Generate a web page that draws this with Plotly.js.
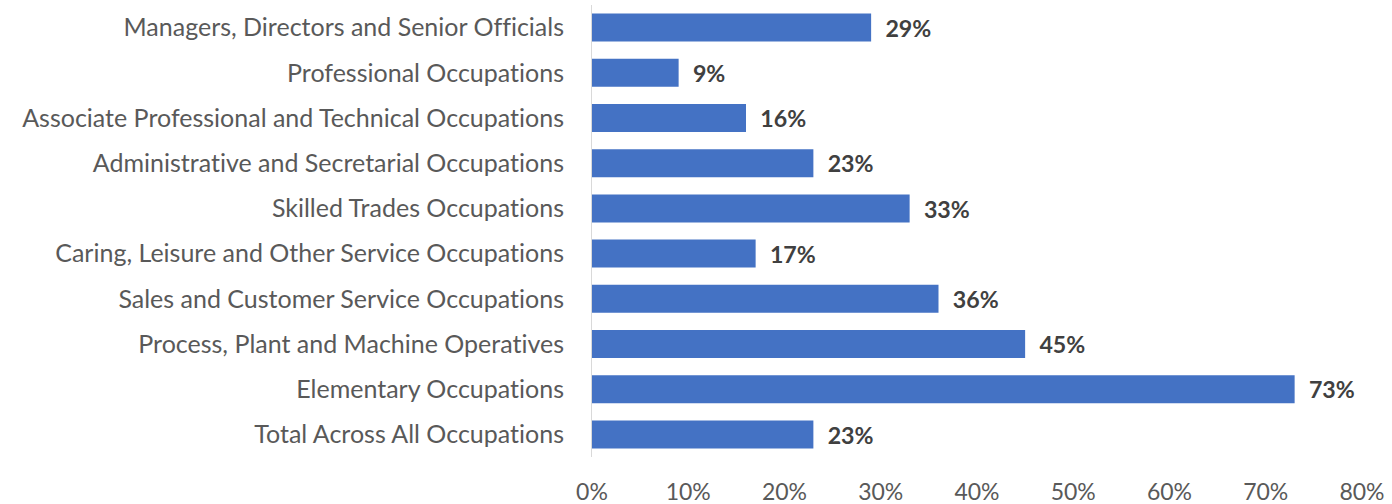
<!DOCTYPE html>
<html><head><meta charset="utf-8">
<script src="https://cdn.plot.ly/plotly-3.0.1.min.js"></script>
<style>html,body{margin:0;padding:0;background:#fff}#chart{width:1392px;height:504px}
text{font-variant-ligatures:none !important;font-feature-settings:"liga" 0, "clig" 0 !important;}</style>
</head><body><div id="chart"></div>
<script>
var categories = [
  "Managers, Directors and Senior Officials",
  "Professional Occupations",
  "Associate Professional and Technical Occupations",
  "Administrative and Secretarial Occupations",
  "Skilled Trades Occupations",
  "Caring, Leisure and Other Service Occupations",
  "Sales and Customer Service Occupations",
  "Process, Plant and Machine Operatives",
  "Elementary Occupations",
  "Total Across All Occupations"
];
var values = [0.29, 0.09, 0.16, 0.23, 0.33, 0.17, 0.36, 0.45, 0.73, 0.23];
var xTickVals = [0, 0.1, 0.2, 0.3, 0.4, 0.5, 0.6, 0.7, 0.8];

var trace = {
  type: 'bar', orientation: 'h',
  y: categories, x: values,
  marker: {color: '#4472C4'},
  texttemplate: '\u00a0\u00a0%{x:.0%}',
  textposition: 'outside',
  cliponaxis: false,
  textfont: {family: 'Lato', size: 24, color: '#404040', weight: 'bold'},
  hoverinfo: 'none'
};
var layout = {
  width: 1392, height: 504,
  margin: {l: 592, r: 30, t: 5, b: 47},
  paper_bgcolor: '#fff', plot_bgcolor: '#fff',
  showlegend: false,
  bargap: 0.38,
  font: {family: 'Lato', color: '#595959'},
  xaxis: {
    range: [0, 0.8], tickvals: xTickVals, tickformat: '.0%',
    showgrid: false, zeroline: false, showline: false,
    ticks: 'outside', ticklen: 14, tickcolor: 'rgba(0,0,0,0)',
    tickfont: {family: 'Lato', size: 23, color: '#595959'},
    fixedrange: true
  },
  yaxis: {
    autorange: 'reversed', showgrid: false, zeroline: false,
    showline: true, linecolor: '#d9d9d9', linewidth: 1,
    ticks: 'outside', ticklen: 22, tickcolor: 'rgba(0,0,0,0)',
    tickfont: {family: 'Lato', size: 25, color: '#595959'},
    fixedrange: true
  }
};
Plotly.newPlot('chart', [trace], layout, {displayModeBar: false, staticPlot: true});
</script></body></html>
